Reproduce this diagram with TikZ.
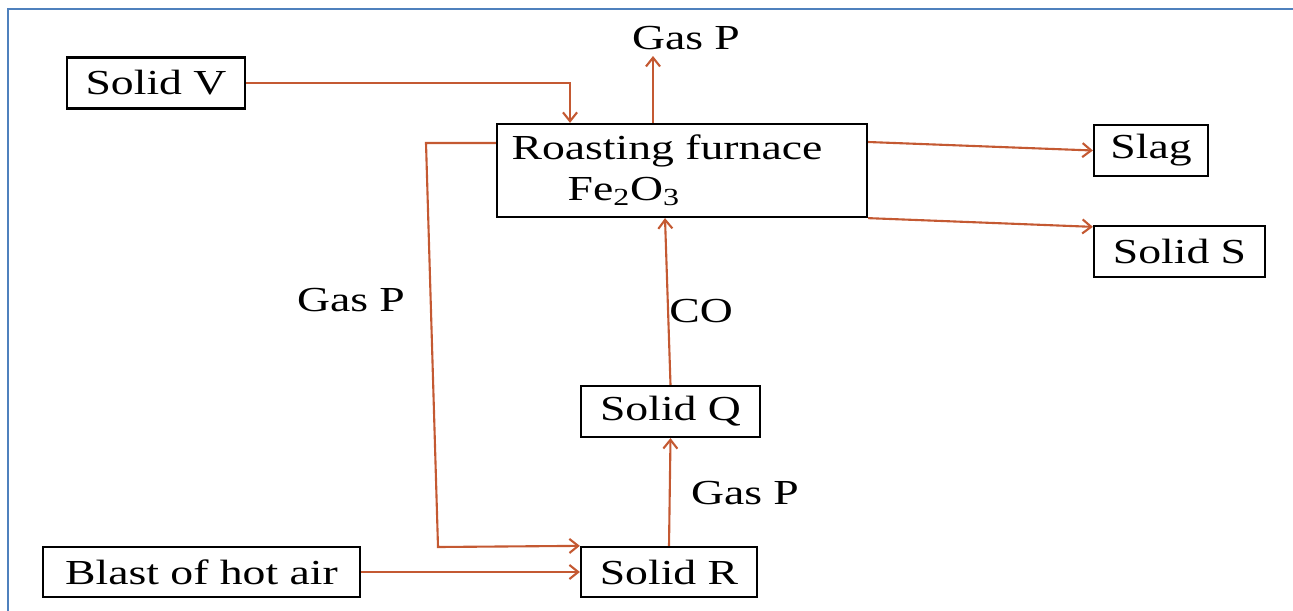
\documentclass[tikz,border=0pt]{standalone}
\usepackage{fontspec}
\setmainfont{Liberation Serif}[FakeStretch=1.3]
\usetikzlibrary{arrows.meta}
\definecolor{flowline}{RGB}{196,89,50}
\definecolor{frameblue}{RGB}{79,129,189}

\begin{document}
\begin{tikzpicture}[x=0.02cm, y=-0.02cm, font=\fontsize{20}{23}\selectfont,
    >={Straight Barb[length=5pt,width=8pt]}]
    \useasboundingbox (0,0) rectangle (1293,611);
    \draw[frameblue, line width=1.6pt] (8,611) -- (8,9) -- (1293,9);
    \begin{scope}[every node/.style = {draw, line width=1.3pt, inner sep=0pt, minimum height=1.02cm}]
      \node[minimum width=3.56cm] (solidv) at (156, 83) {Solid V};
      \node[minimum width=7.4cm, minimum height=1.86cm, align=left] (furnace) at (682, 170.5)
        {Roasting furnace\hspace*{0.6cm}\\\hspace*{1.12cm}Fe\textsubscript{2}O\textsubscript{3}};
      \node[minimum width=2.28cm] (slag)   at (1151, 150.5) {Slag};
      \node[minimum width=3.42cm] (solids) at (1179.5, 251.5) {Solid S};
      \node[minimum width=3.58cm] (solidq) at (670.5, 411.5) {Solid Q};
      \node[minimum width=3.52cm, minimum height=1cm] (solidr) at (669, 572) {Solid R};
      \node[minimum width=6.34cm, minimum height=1cm] (blast)  at (201.5, 572) {Blast of hot air};
    \end{scope}
    \node (gastop)  at (686, 38)  {Gas P};
    \node (gasleft) at (351, 300) {Gas P};
    \node (co)      at (701, 311) {CO};
    \node (gasmid)  at (745, 493) {Gas P};
    \coordinate (loopa) at (426, 143);
    \coordinate (loopb) at (438, 547);
    \begin{scope}[flowline, line width=1.2pt]
      \draw[->] (solidv.east) -| ([xshift=-2.24cm]furnace.north);
      \draw[->] ([xshift=-0.58cm]furnace.north) -- ([xshift=-0.58cm]furnace.north |- gastop.south);
      \draw[->] ([yshift=0.57cm]furnace.east) -- (slag.west);
      \draw[->] (furnace.south east) -- ([yshift=-0.04cm]solids.north west);
      \draw[->] (solidq.north) -- ([xshift=-0.34cm]furnace.south);
      \draw[->] (solidr.north) -- (solidq.south);
      \draw[->] (blast.east) -- (solidr.west);
      \draw[->] ([yshift=0.55cm]furnace.west) -- (loopa) -- (loopb) -- (solidr.north west);
    \end{scope}
\end{tikzpicture}
\end{document}
